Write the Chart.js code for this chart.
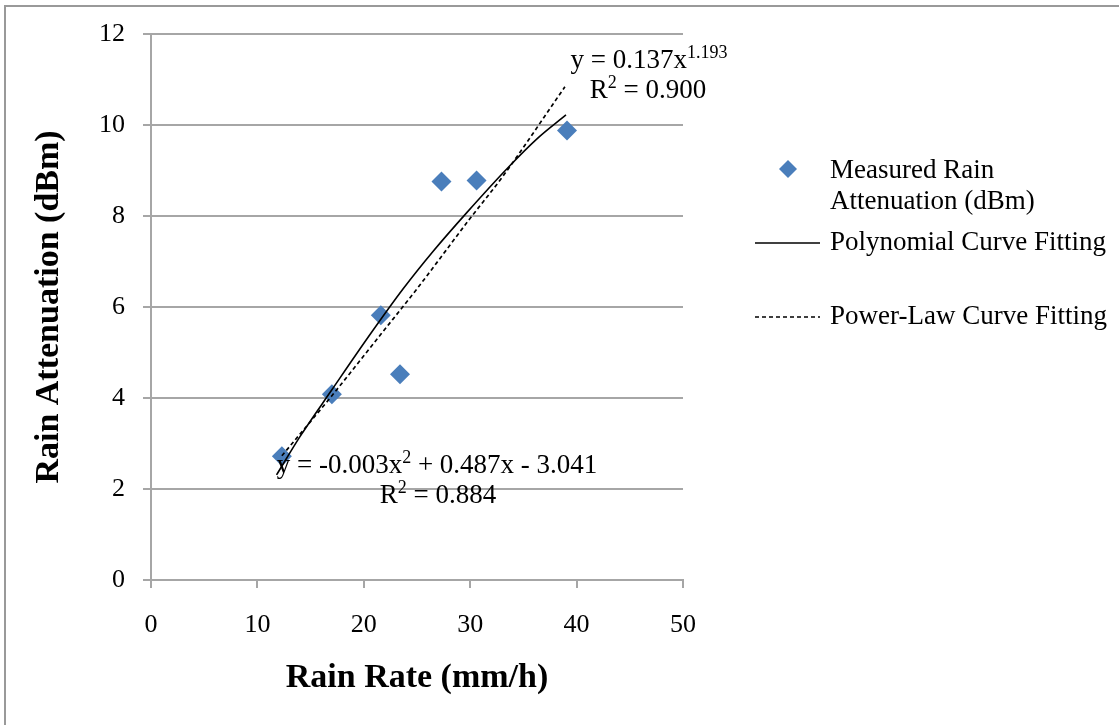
<!DOCTYPE html>
<html>
<head>
<meta charset="utf-8">
<script src="https://cdn.jsdelivr.net/npm/chart.js@4.4.1/dist/chart.umd.min.js"></script>
<style>
  html, body { margin: 0; padding: 0; background: #fff; }
  canvas { display: block; }
</style>
</head>
<body>
<canvas id="rainChart" width="1119" height="725"></canvas>
<script>
// measured points
const rainRate = [12.3, 17.0, 21.6, 23.4, 27.3, 30.6, 39.1];
const attenuation = [2.72, 4.08, 5.82, 4.52, 8.76, 8.78, 9.88];

// trend lines
const polyX = [11.8, 14.0, 17.0, 20.6, 23.7, 26.5, 29.7, 33.5, 36.3, 39.0];
const polyY = [2.31, 3.15, 4.18, 5.40, 6.40, 7.22, 8.08, 9.05, 9.70, 10.22];
const powX = [12.3, 17.0, 21.6, 25.0, 30.0, 33.0, 38.9];
const powY = [2.73, 4.05, 5.40, 6.40, 7.95, 8.85, 10.84];

const xTicks = [0, 10, 20, 30, 40, 50];
const yTicks = [0, 2, 4, 6, 8, 10, 12];

const serif = "'Liberation Serif', 'DejaVu Serif', serif";
const blue = '#4A7EBB';
const gridGray = '#a6a6a6';

const toPts = (xs, ys) => xs.map((x, i) => ({ x: x, y: ys[i] }));

// text with superscript parts, centred on cx
function drawRich(ctx, parts, cx, cy) {
  const big = '27px ' + serif, small = '18px ' + serif;
  let w = 0;
  parts.forEach(p => { ctx.font = p.sup ? small : big; w += ctx.measureText(p.t).width; });
  let x = cx - w / 2;
  ctx.textAlign = 'left';
  ctx.textBaseline = 'middle';
  parts.forEach(p => {
    ctx.font = p.sup ? small : big;
    ctx.fillText(p.t, x, p.sup ? cy - 8 : cy);
    x += ctx.measureText(p.t).width;
  });
}

const overlay = {
  id: 'overlay',
  beforeDraw(chart) {
    const ctx = chart.ctx;
    ctx.save();
    ctx.fillStyle = '#fff';
    ctx.fillRect(0, 0, chart.width, chart.height);
    ctx.strokeStyle = '#999';
    ctx.lineWidth = 2;
    ctx.beginPath();
    ctx.moveTo(5, chart.height);
    ctx.lineTo(5, 6);
    ctx.lineTo(chart.width, 6);
    ctx.stroke();
    ctx.restore();
  },
  afterDraw(chart) {
    const ctx = chart.ctx;
    ctx.save();
    ctx.fillStyle = '#000';

    // equations
    drawRich(ctx, [{ t: 'y = 0.137x' }, { t: '1.193', sup: true }], 649, 61);
    drawRich(ctx, [{ t: 'R' }, { t: '2', sup: true }, { t: ' = 0.900' }], 648, 91);
    drawRich(ctx, [{ t: 'y = -0.003x' }, { t: '2', sup: true }, { t: ' + 0.487x - 3.041' }], 437, 466);
    drawRich(ctx, [{ t: 'R' }, { t: '2', sup: true }, { t: ' = 0.884' }], 438, 496);

    // legend
    ctx.font = '27px ' + serif;
    ctx.textAlign = 'left';
    ctx.textBaseline = 'middle';
    ctx.fillStyle = blue;
    ctx.beginPath();
    ctx.moveTo(788, 160); ctx.lineTo(797, 169); ctx.lineTo(788, 178); ctx.lineTo(779, 169);
    ctx.closePath();
    ctx.fill();
    ctx.fillStyle = '#000';
    ctx.fillText('Measured Rain', 830, 171);
    ctx.fillText('Attenuation (dBm)', 830, 202);

    ctx.strokeStyle = '#000';
    ctx.lineWidth = 1.5;
    ctx.beginPath(); ctx.moveTo(755, 243); ctx.lineTo(820, 243); ctx.stroke();
    ctx.fillText('Polynomial Curve Fitting', 830, 243);

    ctx.setLineDash([4, 3]);
    ctx.lineWidth = 1.7;
    ctx.beginPath(); ctx.moveTo(755, 317); ctx.lineTo(820, 317); ctx.stroke();
    ctx.setLineDash([]);
    ctx.fillText('Power-Law Curve Fitting', 830, 317);
    ctx.restore();
  }
};

new Chart(document.getElementById('rainChart'), {
  type: 'scatter',
  data: {
    datasets: [
      {
        label: 'Measured Rain Attenuation (dBm)',
        data: toPts(rainRate, attenuation),
        pointStyle: 'rectRot',
        pointRadius: 10,
        pointBackgroundColor: blue,
        pointBorderColor: blue,
        pointBorderWidth: 0,
        order: 3
      },
      {
        label: 'Polynomial Curve Fitting',
        data: toPts(polyX, polyY),
        showLine: true,
        pointRadius: 0,
        borderColor: '#000',
        borderWidth: 1.6,
        cubicInterpolationMode: 'monotone',
        order: 1
      },
      {
        label: 'Power-Law Curve Fitting',
        data: toPts(powX, powY),
        showLine: true,
        pointRadius: 0,
        borderColor: '#000',
        borderWidth: 1.7,
        borderDash: [4, 3],
        cubicInterpolationMode: 'monotone',
        order: 2
      }
    ]
  },
  options: {
    responsive: false,
    animation: false,
    devicePixelRatio: 1,
    layout: { padding: { top: 34, right: 436, left: 0, bottom: 0 } },
    plugins: {
      legend: { display: false },
      tooltip: { enabled: false }
    },
    scales: {
      x: {
        type: 'linear',
        min: xTicks[0],
        max: xTicks[xTicks.length - 1],
        afterBuildTicks: s => { s.ticks = xTicks.map(v => ({ value: v })); },
        afterFit: s => { s.height = 145; },
        ticks: { color: '#000', font: { family: serif, size: 26 }, padding: 22 },
        grid: { drawOnChartArea: false, tickLength: 8, color: gridGray, lineWidth: 2 },
        border: { color: gridGray, width: 2 },
        title: {
          display: true,
          text: 'Rain Rate (mm/h)',
          color: '#000',
          font: { family: serif, size: 34, weight: 'bold' },
          padding: { top: 6, bottom: 26 }
        }
      },
      y: {
        min: yTicks[0],
        max: yTicks[yTicks.length - 1],
        afterBuildTicks: s => { s.ticks = yTicks.map(v => ({ value: v })); },
        afterFit: s => { s.width = 151; },
        ticks: { color: '#000', font: { family: serif, size: 26 }, padding: 18 },
        grid: { tickLength: 8, color: gridGray, lineWidth: 2 },
        border: { color: gridGray, width: 2 },
        title: {
          display: true,
          text: 'Rain Attenuation (dBm)',
          color: '#000',
          font: { family: serif, size: 34, weight: 'bold' },
          padding: { top: 29, bottom: 4 }
        }
      }
    }
  },
  plugins: [overlay]
});
</script>
</body>
</html>
